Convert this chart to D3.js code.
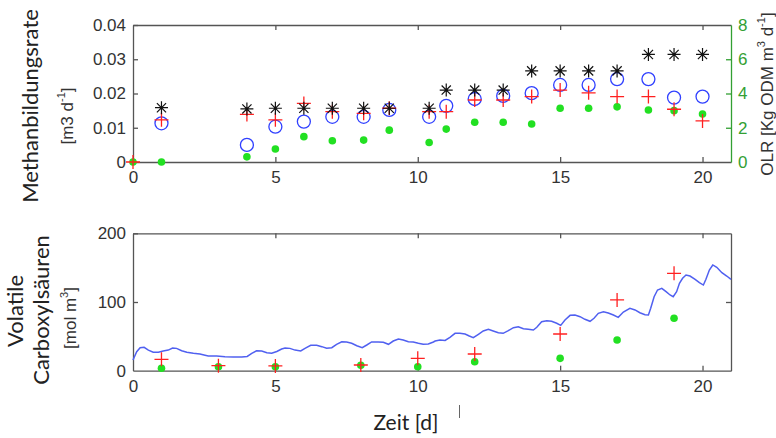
<!DOCTYPE html>
<html>
<head>
<meta charset="utf-8">
<script src="https://cdn.jsdelivr.net/npm/d3@7.9.0/dist/d3.min.js"></script>
<style>
  body { margin: 0; background: #fff; }
  svg { display: block; }
  .tick text { font-family: "Liberation Sans", Arial, sans-serif; font-size: 17px; fill: #333; }
  .frame path.domain, .frame .tick line { stroke: #555; stroke-width: 1.3; }
</style>
</head>
<body>
<svg id="chart" width="776" height="438"></svg>
<script>
// --- Methanbildungsrate (oben) ---
const topDays   = [0, 1, 4, 5, 6, 7, 8.1, 9, 10.4, 11, 12, 13, 14, 15, 16, 17, 18.1, 19, 20];
const redTop    = [0, 0.0123, 0.0139, 0.0123, 0.0171, 0.0147, 0.0142, 0.0157, 0.0147, 0.0147, 0.0181, 0.0181, 0.0191, 0.021, 0.0202, 0.0191, 0.0191, 0.0154, 0.012];
const greenTop  = [0, 0, 0.0015, 0.0038, 0.0074, 0.0062, 0.0064, 0.0093, 0.0057, 0.0096, 0.0116, 0.0116, 0.0111, 0.0157, 0.0157, 0.0161, 0.0152, 0.015, 0.014];
const olrDays   = [1, 4, 5, 6, 7, 8.1, 9, 10.4, 11, 12, 13, 14, 15, 16, 17, 18.1, 19, 20];
const olrVals   = [3.17, 3.1, 3.14, 3.14, 3.14, 3.14, 3.14, 3.14, 4.2, 4.2, 4.2, 5.32, 5.32, 5.32, 5.32, 6.28, 6.28, 6.28];
const blueTop   = [0.0113, 0.005, 0.0103, 0.0118, 0.0132, 0.0132, 0.0152, 0.0132, 0.0164, 0.0184, 0.0193, 0.0201, 0.0225, 0.0225, 0.0242, 0.0242, 0.0188, 0.0191];

// --- Volatile Carboxylsäuren (unten) ---
const vfaDays   = [1, 3, 5, 8, 10, 12, 15, 17, 19];
const redVfa    = [16.6, 7.3, 7, 8.3, 18, 24.3, 53.4, 103, 141.8];
const greenVfa  = [3.5, 5.8, 5.8, 8, 5.8, 13, 18, 44.7, 76.3];
const lineDays  = [0, 0.13, 0.25, 0.39, 0.54, 0.71, 0.89, 1.06, 1.24, 1.39, 1.53, 1.71, 1.89, 2.12, 2.35, 2.64, 2.94, 3.23, 3.52, 3.82, 4.01, 4.17, 4.34, 4.52, 4.70, 4.87, 5.05, 5.22, 5.34, 5.51, 5.69, 5.89, 6.04, 6.24, 6.45, 6.63, 6.80, 6.98, 7.15, 7.33, 7.50, 7.68, 7.86, 8.05, 8.21, 8.38, 8.61, 8.79, 8.97, 9.14, 9.32, 9.49, 9.67, 9.84, 10.02, 10.19, 10.37, 10.55, 10.61, 10.78, 10.96, 11.13, 11.31, 11.48, 11.66, 11.81, 11.95, 12.13, 12.30, 12.48, 12.65, 12.83, 13.00, 13.18, 13.36, 13.53, 13.71, 13.88, 14.06, 14.18, 14.35, 14.53, 14.70, 14.88, 15.02, 15.17, 15.35, 15.52, 15.70, 15.87, 16.05, 16.19, 16.34, 16.52, 16.69, 16.87, 17.04, 17.22, 17.45, 17.63, 17.80, 17.98, 18.10, 18.18, 18.30, 18.42, 18.57, 18.72, 18.86, 18.97, 19.09, 19.19, 19.30, 19.42, 19.56, 19.74, 19.89, 20.03, 20.12, 20.24, 20.36, 20.50, 20.68, 20.85, 21];
const lineVals  = [15.6, 27.7, 33.5, 34, 30, 26.8, 26.8, 28.7, 30, 33, 32.5, 29, 26.8, 25.3, 24.3, 21.4, 21.4, 20.4, 20, 20, 20.8, 25.3, 29, 28.7, 26.2, 25.3, 28, 31.5, 33, 32.5, 30, 28.7, 32.6, 37, 37, 35, 32.6, 33.5, 38.4, 42.2, 41.7, 39.9, 36.4, 33.5, 37.4, 41.8, 41.8, 41.3, 38.4, 43.2, 46.1, 44.7, 42.2, 41.8, 39.9, 38.4, 38.9, 41.8, 43.2, 44.7, 44, 48.6, 54.4, 54.5, 53.4, 50.5, 48, 53, 57.8, 60.2, 57.8, 55.3, 54.4, 58.2, 62.6, 64, 61.1, 60.2, 59.2, 63.2, 71.3, 72.8, 71.9, 69, 66, 73.8, 80.6, 81, 78.6, 74.8, 71.9, 76.3, 83.5, 85.9, 84, 81, 77.7, 85.4, 90.8, 88.4, 84.4, 81.5, 81, 90.8, 107.7, 117.5, 119.9, 115, 110.2, 107.7, 115, 127.2, 134.5, 139.3, 137.8, 133, 128.1, 124.7, 133, 146.6, 153.9, 150.5, 142.7, 137.8, 133];

const xTicks = [0, 5, 10, 15, 20];
const yTopTicks = [0, 0.01, 0.02, 0.03, 0.04];
const olrTicks = [0, 2, 4, 6, 8];
const vfaTicks = [0, 100, 200];

const svg = d3.select('#chart');
const L = 133, R = 731;
const x = d3.scaleLinear().domain([0, 21]).range([L, R]);
const yTop = d3.scaleLinear().domain([0, 0.04]).range([162, 25]);
const yOlr = d3.scaleLinear().domain([0, 8]).range([162, 25]);
const yVfa = d3.scaleLinear().domain([0, 200]).range([370.7, 233.3]);

const RED = '#ff2020', BLUE = '#3040ff', GREEN = '#22e022', AXG = '#33a033';

// rahmen mit innen liegenden ticks
function frame(yScale, ticks, fmt, withRight) {
  const y0 = yScale.range()[0], y1 = yScale.range()[1];
  const g = svg.append('g').attr('class', 'frame');
  g.append('g').attr('transform', `translate(0,${y0})`)
    .call(d3.axisBottom(x).tickValues(xTicks).tickSizeInner(-5).tickSizeOuter(0).tickPadding(9).tickFormat(d3.format('d')));
  g.append('g').attr('transform', `translate(0,${y1})`)
    .call(d3.axisTop(x).tickValues(xTicks.slice(1)).tickSizeInner(-5).tickSizeOuter(0).tickFormat(''));
  g.append('g').attr('transform', `translate(${L},0)`)
    .call(d3.axisLeft(yScale).tickValues(ticks).tickSizeInner(-5).tickSizeOuter(0).tickPadding(7).tickFormat(fmt));
  if (withRight) {
    g.append('g').attr('transform', `translate(${R},0)`)
      .call(d3.axisRight(yScale).tickValues(ticks.slice(1, -1)).tickSizeInner(-5).tickSizeOuter(0).tickFormat(''));
  }
  g.selectAll('.tick').filter(d => d === 0).select('line').remove();
  return g;
}

frame(yTop, yTopTicks, d => d === 0 ? '0' : d3.format('.2f')(d), false);
frame(yVfa, vfaTicks, d3.format('d'), true);

// rechte OLR-Achse (grün)
const gOlr = svg.append('g').attr('transform', `translate(${R},0)`)
  .call(d3.axisRight(yOlr).tickValues(olrTicks).tickSizeInner(-5).tickSizeOuter(0).tickPadding(7));
gOlr.select('.domain').attr('stroke', AXG).attr('stroke-width', 1.3);
gOlr.selectAll('.tick line').attr('stroke', AXG).attr('stroke-width', 1.3);
gOlr.selectAll('.tick text').style('fill', AXG);
gOlr.selectAll('.tick').filter(d => d === 0 || d === 8).select('line').remove();

// marker
const plus = r => `M${-r},0H${r}M0,${-r}V${r}`;
const star = r => {
  const a = r * Math.SQRT1_2;
  return `M${-r},0H${r}M0,${-r}V${r}M${-a},${-a}L${a},${a}M${-a},${a}L${a},${-a}`;
};

function dots(days, vals, yScale, r) {
  svg.append('g').selectAll('circle').data(days).join('circle')
    .attr('cx', d => x(d)).attr('cy', (d, i) => yScale(vals[i]))
    .attr('r', r).attr('fill', GREEN);
}
function plusses(days, vals, yScale, r) {
  svg.append('g').selectAll('path').data(days).join('path')
    .attr('transform', (d, i) => `translate(${x(d)},${yScale(vals[i])})`)
    .attr('d', plus(r)).attr('stroke', RED).attr('stroke-width', 1.3).attr('fill', 'none');
}

// oben
dots(topDays, greenTop, yTop, 3.8);
svg.append('g').selectAll('circle').data(olrDays).join('circle')
  .attr('cx', d => x(d)).attr('cy', (d, i) => yTop(blueTop[i]))
  .attr('r', 6.5).attr('fill', 'none').attr('stroke', BLUE).attr('stroke-width', 1.3);
plusses(topDays, redTop, yTop, 7);
svg.append('g').selectAll('path').data(olrDays).join('path')
  .attr('transform', (d, i) => `translate(${x(d)},${yOlr(olrVals[i])})`)
  .attr('d', star(6.5)).attr('stroke', '#111').attr('stroke-width', 1.2).attr('fill', 'none');

// unten
svg.append('path')
  .datum(lineDays.map((d, i) => [d, lineVals[i]]))
  .attr('d', d3.line().x(d => x(d[0])).y(d => yVfa(d[1])))
  .attr('fill', 'none').attr('stroke', '#5060f0').attr('stroke-width', 1.5);
dots(vfaDays, greenVfa, yVfa, 3.8);
plusses(vfaDays, redVfa, yVfa, 7);

// beschriftung
const lab = (tx, ty, rot, size, fam, fill) => svg.append('text')
  .attr('transform', `translate(${tx},${ty}) rotate(${rot})`)
  .attr('text-anchor', 'middle').attr('dominant-baseline', 'central')
  .style('font-family', fam).style('font-size', size + 'px').style('fill', fill);
const SANS = 'Lato, "Open Sans", sans-serif';
const ARIAL = '"Liberation Sans", Arial, sans-serif';

lab(29, 106, -90, 22, SANS, '#222').text('Methanbildungsrate');
const u1 = lab(67, 116, -90, 17, ARIAL, '#333');
u1.append('tspan').text('[m3 d');
u1.append('tspan').attr('dy', -6).style('font-size', '11px').text('-1');
u1.append('tspan').attr('dy', 6).text(']');

const u2 = lab(767, 94, -90, 17, ARIAL, '#333');
u2.append('tspan').text('OLR [Kg ODM m');
u2.append('tspan').attr('dy', -6).style('font-size', '11px').text('3');
u2.append('tspan').attr('dy', 6).text(' d');
u2.append('tspan').attr('dy', -6).style('font-size', '11px').text('-1');
u2.append('tspan').attr('dy', 6).text(']');

lab(14, 311, -90, 22, SANS, '#222').text('Volatile');
lab(40, 310, -90, 22, SANS, '#222').text('Carboxylsäuren');
const u3 = lab(70, 318, -90, 17, ARIAL, '#333');
u3.append('tspan').text('[mol m');
u3.append('tspan').attr('dy', -6).style('font-size', '11px').text('3');
u3.append('tspan').attr('dy', 6).text(']');

lab(406, 421, 0, 21, SANS, '#222').text('Zeit [d]');
svg.append('line').attr('x1', 459.5).attr('x2', 459.5).attr('y1', 405).attr('y2', 418)
  .attr('stroke', '#666').attr('stroke-width', 1);
</script>
</body>
</html>
